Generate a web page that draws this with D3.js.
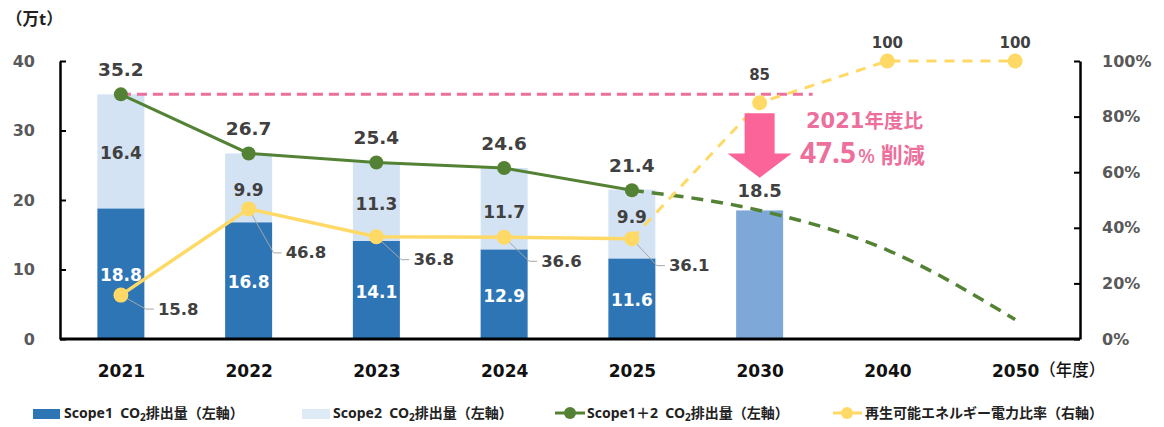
<!DOCTYPE html>
<html><head><meta charset="utf-8">
<script src="https://cdn.jsdelivr.net/npm/d3@7"></script>
<style>body{margin:0;background:#fff}svg{display:block}text{white-space:pre}</style>
</head><body>
<script>
// ---- data ----
const years = ["2021","2022","2023","2024","2025","2030","2040","2050"];
const actualYears = ["2021","2022","2023","2024","2025"];
const scope1 = [18.8,16.8,14.1,12.9,11.6];
const scope2 = [16.4,9.9,11.3,11.7,9.9];
const totalScope12 = [35.2,26.7,25.4,24.6,21.4];
const targetYear = "2030";
const target2030 = 18.5;
const forecastYears = ["2025","2030","2040","2050"];
const totalForecast = [21.4,18.5,12.8,2.8];
const renewable = [15.8,46.8,36.8,36.6,36.1];
const renewablePlanYears = ["2025","2030","2040","2050"];
const renewablePlan = [36.1,85,100,100];
const renewablePlanLabels = ["85","100","100"];
const leftTicks = [0,10,20,30,40];
const rightTicks = [0,20,40,60,80,100];
const legendLabels = ["Scope1  CO","Scope2  CO","Scope1＋2  CO","再生可能エネルギー電力比率（右軸）"];

// ---- layout ----
const W = 1164, H = 427;
const NUM = "'DejaVu Sans', sans-serif";
const JP = "'Noto Sans','Noto Sans CJK JP', sans-serif";
const C1 = "#2E75B6", C2 = "#D3E3F3", C30 = "#7EA8D8", CG = "#548235", CY = "#FFD966", CP = "#EC6F9C", CA = "#FA6498";
const renewLabelDy = [14, 44, 23, 24, 27];
const scope2LabelDy = [2, 2, 2, 3, -7];

const svg = d3.select("body").append("svg").attr("width", W).attr("height", H);
const x = d3.scalePoint().domain(years).range([57, 1079]).padding(0.5);
const yL = d3.scaleLinear().domain([0, 40]).range([339, 61]);
const yR = d3.scaleLinear().domain([0, 100]).range([339, 61]);
const bw = 47;

// bars
const g = svg.append("g");
actualYears.forEach((yr, i) => {
  g.append("rect").attr("x", x(yr) - bw/2).attr("width", bw)
    .attr("y", yL(scope1[i])).attr("height", yL(0) - yL(scope1[i])).attr("fill", C1);
  g.append("rect").attr("x", x(yr) - bw/2).attr("width", bw)
    .attr("y", yL(scope1[i] + scope2[i])).attr("height", yL(scope1[i]) - yL(scope1[i] + scope2[i])).attr("fill", C2);
});
g.append("rect").attr("x", x(targetYear) - bw/2).attr("width", bw)
  .attr("y", yL(target2030)).attr("height", yL(0) - yL(target2030)).attr("fill", C30);

// pink baseline
svg.append("line").attr("x1", x("2021")).attr("x2", x("2030") + 53)
  .attr("y1", yL(totalScope12[0])).attr("y2", yL(totalScope12[0]))
  .attr("stroke", CP).attr("stroke-width", 3).attr("stroke-dasharray", "10,6");

// axes
const axL = svg.append("g").attr("transform", "translate(60,0)")
  .call(d3.axisLeft(yL).tickValues(leftTicks).tickSizeInner(-6).tickSizeOuter(0).tickPadding(25));
const axR = svg.append("g").attr("transform", "translate(1080,0)")
  .call(d3.axisRight(yR).tickValues(rightTicks).tickFormat(d => d + "%").tickSizeInner(-6).tickSizeOuter(0).tickPadding(22));
[axL, axR].forEach(a => {
  a.select(".domain").attr("stroke", "#000").attr("stroke-width", 2.5);
  a.selectAll(".tick line").attr("stroke", "#000").attr("stroke-width", 2);
  a.selectAll(".tick text").attr("font-family", NUM).attr("font-weight", "bold").attr("font-size", 16).attr("fill", "#595959");
});
const axB = svg.append("g").attr("transform", "translate(0,339)")
  .call(d3.axisBottom(x).tickSize(0).tickPadding(26));
axB.select(".domain").attr("stroke", "#000").attr("stroke-width", 3).attr("d", "M60,0H1080");
axB.selectAll(".tick text").attr("font-family", NUM).attr("font-weight", "bold").attr("font-size", 17).attr("fill", "#111");
svg.append("text").attr("x", x("2050") + 24).attr("y", 376).text("（年度）")
  .attr("font-family", JP).attr("font-size", 16.5).attr("font-weight", 500).attr("fill", "#111");
svg.append("text").attr("x", 6).attr("y", 25).text("（万t）")
  .attr("font-family", JP).attr("font-size", 16.5).attr("font-weight", 700).attr("fill", "#222");

// green total line
const lineL = d3.line().x(d => x(d[0])).y(d => yL(d[1]));
svg.append("path").datum(forecastYears.map((yr, i) => [yr, totalForecast[i]]))
  .attr("d", lineL.curve(d3.curveMonotoneX)).attr("fill", "none").attr("stroke", CG)
  .attr("stroke-width", 3.5).attr("stroke-dasharray", "12,8");
svg.append("path").datum(actualYears.map((yr, i) => [yr, totalScope12[i]]))
  .attr("d", d3.line().x(d => x(d[0])).y(d => yL(d[1]))).attr("fill", "none").attr("stroke", CG).attr("stroke-width", 3);

// yellow renewable line
const lineR = d3.line().x(d => x(d[0])).y(d => yR(d[1]));
svg.append("path").datum(renewablePlanYears.map((yr, i) => [yr, renewablePlan[i]]))
  .attr("d", lineR).attr("fill", "none").attr("stroke", CY).attr("stroke-width", 3).attr("stroke-dasharray", "10,8");
svg.append("path").datum(actualYears.map((yr, i) => [yr, renewable[i]]))
  .attr("d", lineR).attr("fill", "none").attr("stroke", CY).attr("stroke-width", 3.5);

// leader lines for renewable labels
actualYears.forEach((yr, i) => {
  const cx = x(yr), cy = yR(renewable[i]);
  const lx = cx + 37, ly = cy + renewLabelDy[i];
  svg.append("polyline").attr("points", `${cx},${cy} ${lx - 12},${ly} ${lx - 4},${ly}`)
    .attr("fill", "none").attr("stroke", "#A6A6A6").attr("stroke-width", 1);
});

// dots
svg.selectAll(".gdot").data(actualYears).join("circle").attr("cx", d => x(d))
  .attr("cy", (d, i) => yL(totalScope12[i])).attr("r", 7).attr("fill", CG);
svg.selectAll(".ydot").data(actualYears).join("circle").attr("cx", d => x(d))
  .attr("cy", (d, i) => yR(renewable[i])).attr("r", 7.5).attr("fill", CY);
svg.selectAll(".ydot2").data(renewablePlanYears.slice(1)).join("circle").attr("cx", d => x(d))
  .attr("cy", (d, i) => yR(renewablePlan[i + 1])).attr("r", 7.5).attr("fill", CY);

// labels
function lab(t, cx, cy, size, fill, anchor) {
  svg.append("text").attr("x", cx).attr("y", cy).text(t)
    .attr("font-family", NUM).attr("font-weight", "bold").attr("font-size", size)
    .attr("fill", fill).attr("text-anchor", anchor || "middle").attr("dominant-baseline", "central");
}
actualYears.forEach((yr, i) => {
  const cx = x(yr);
  lab(totalScope12[i].toFixed(1), cx, yL(totalScope12[i]) - 25, 18.5, "#404040");
  lab(scope1[i].toFixed(1), cx, (yL(0) + yL(scope1[i])) / 2 + 1.5, 17, "#fff");
  lab(scope2[i].toFixed(1), cx, (yL(scope1[i]) + yL(scope1[i] + scope2[i])) / 2 + scope2LabelDy[i], 17, "#404040");
  lab(renewable[i].toFixed(1), cx + 37, yR(renewable[i]) + renewLabelDy[i], 16.5, "#404040", "start");
});
lab(target2030.toFixed(1), x(targetYear), yL(target2030) - 20, 18, "#404040");
renewablePlanYears.slice(1).forEach((yr, i) => {
  lab(renewablePlanLabels[i], x(yr), yR(renewablePlan[i + 1]) - (i === 0 ? 28 : 18.5), 15, "#404040");
});

// pink arrow annotation
const ax = x(targetYear);
const aTop = yL(32.5), aNeck = yL(26.7), aTip = yL(23.2);
svg.append("path").attr("d",
  `M${ax - 15},${aTop}H${ax + 15}V${aNeck}H${ax + 32}L${ax},${aTip}L${ax - 32},${aNeck}H${ax - 15}Z`)
  .attr("fill", CA);
const t1 = svg.append("text").attr("x", 806).attr("y", 128).attr("fill", CP).attr("font-weight", "bold");
t1.append("tspan").text("2021").attr("font-family", NUM).attr("font-size", 21);
t1.append("tspan").text("年度比").attr("font-family", JP).attr("font-size", 19.5);
const t2 = svg.append("text").attr("x", 800).attr("y", 163).attr("fill", CP).attr("font-weight", "bold");
t2.append("tspan").text("47.5").attr("font-family", "'Noto Sans', sans-serif").attr("font-size", 28);
t2.append("tspan").text("%").attr("font-family", JP).attr("font-size", 20).attr("dx", 2).attr("font-weight", 500);
t2.append("tspan").text(" 削減").attr("font-family", JP).attr("font-size", 22);

// legend
const lg = svg.append("g").attr("font-family", JP).attr("font-weight", "bold").attr("font-size", 14).attr("fill", "#222");
function co2Text(px, prefix) {
  const t = lg.append("text").attr("x", px).attr("y", 418);
  t.append("tspan").text(prefix);
  t.append("tspan").text("2").attr("font-size", 10).attr("dy", 3);
  t.append("tspan").text("排出量（左軸）").attr("dy", -3);
}
lg.append("rect").attr("x", 33).attr("y", 409).attr("width", 27).attr("height", 10).attr("fill", C1);
co2Text(64, legendLabels[0]);
lg.append("rect").attr("x", 302).attr("y", 409).attr("width", 28).attr("height", 10).attr("fill", "#DEEBF7");
co2Text(333, legendLabels[1]);
lg.append("line").attr("x1", 555).attr("x2", 585).attr("y1", 413).attr("y2", 413).attr("stroke", CG).attr("stroke-width", 3);
lg.append("circle").attr("cx", 570).attr("cy", 413).attr("r", 6).attr("fill", CG);
co2Text(587, legendLabels[2]);
lg.append("line").attr("x1", 833).attr("x2", 862).attr("y1", 413).attr("y2", 413).attr("stroke", CY).attr("stroke-width", 3);
lg.append("circle").attr("cx", 847).attr("cy", 413).attr("r", 6).attr("fill", CY);
lg.append("text").attr("x", 865).attr("y", 418).text(legendLabels[3]);
</script>
</body></html>
